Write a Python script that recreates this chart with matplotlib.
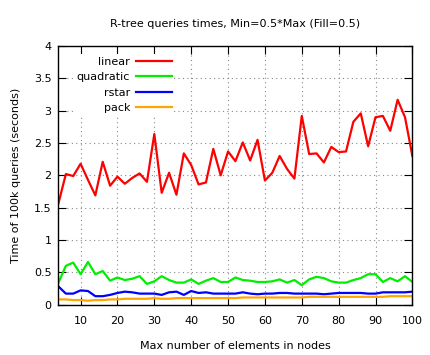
import matplotlib
matplotlib.use("Agg")
import matplotlib.pyplot as plt
import numpy as np

x_vals = list(range(4, 101, 2))

linear = [1.57, 2.02, 1.99, 2.18, 1.93, 1.69, 2.21, 1.84, 1.98, 1.87,
          1.96, 2.03, 1.90, 2.64, 1.73, 2.04, 1.70, 2.34, 2.16, 1.86,
          1.89, 2.41, 2.00, 2.37, 2.22, 2.51, 2.23, 2.55, 1.92, 2.04,
          2.30, 2.10, 1.95, 2.92, 2.33, 2.34, 2.20, 2.44, 2.36, 2.37,
          2.83, 2.96, 2.45, 2.90, 2.92, 2.69, 3.17, 2.90, 2.30]

quadratic = [0.34, 0.60, 0.65, 0.47, 0.66, 0.47, 0.52, 0.37, 0.42, 0.38,
             0.40, 0.44, 0.32, 0.36, 0.44, 0.38, 0.34, 0.34, 0.39, 0.32,
             0.37, 0.41, 0.35, 0.35, 0.42, 0.38, 0.37, 0.35, 0.35, 0.36,
             0.39, 0.34, 0.38, 0.30, 0.39, 0.43, 0.41, 0.36, 0.34, 0.34,
             0.38, 0.41, 0.47, 0.47, 0.35, 0.41, 0.36, 0.44, 0.35]

rstar = [0.28, 0.17, 0.17, 0.22, 0.21, 0.13, 0.13, 0.15, 0.18, 0.20,
         0.19, 0.17, 0.17, 0.17, 0.15, 0.19, 0.20, 0.15, 0.21, 0.18,
         0.19, 0.17, 0.17, 0.17, 0.17, 0.19, 0.17, 0.16, 0.17, 0.17,
         0.18, 0.18, 0.17, 0.17, 0.17, 0.17, 0.16, 0.17, 0.18, 0.18,
         0.18, 0.18, 0.17, 0.17, 0.19, 0.19, 0.19, 0.19, 0.20]

pack = [0.08, 0.08, 0.07, 0.07, 0.06, 0.07, 0.07, 0.08, 0.08, 0.09,
        0.09, 0.09, 0.09, 0.10, 0.09, 0.09, 0.10, 0.10, 0.10, 0.10,
        0.10, 0.10, 0.10, 0.10, 0.10, 0.11, 0.11, 0.11, 0.11, 0.11,
        0.11, 0.11, 0.11, 0.11, 0.12, 0.12, 0.12, 0.12, 0.12, 0.12,
        0.12, 0.12, 0.12, 0.12, 0.12, 0.13, 0.13, 0.13, 0.13]

series = [("linear", linear, "#ff0000"),
          ("quadratic", quadratic, "#00ee00"),
          ("rstar", rstar, "#0000ff"),
          ("pack", pack, "#ffa500")]

x_ticks = list(range(10, 101, 10))
y_ticks = [0, 0.5, 1, 1.5, 2, 2.5, 3, 3.5, 4]
y_tick_labels = ["0", "0.5", "1", "1.5", "2", "2.5", "3", "3.5", "4"]

plt.rcParams["font.family"] = ["DejaVu Sans"]
fig = plt.figure(figsize=(4.3, 3.55), dpi=100)
ax = fig.add_axes([0.136, 0.142, 0.823, 0.728])

for name, vals, col in series:
    ax.plot(x_vals, vals, color=col, lw=1.6, label=name)

ax.set_xlim(4, 100)
ax.set_ylim(0, 4)
ax.set_xticks(x_ticks)
ax.set_yticks(y_ticks)
ax.set_yticklabels(y_tick_labels)
ax.tick_params(direction="in", length=5.5, width=0.8, top=True, right=True,
               labelsize=8, pad=5)
ax.tick_params(axis="x", pad=8)
for s in ax.spines.values():
    s.set_linewidth(1.0)
ax.grid(True, color="#888888", linestyle=(0, (1, 3)), linewidth=0.8)
ax.set_axisbelow(True)

ax.set_title("R-tree queries times, Min=0.5*Max (Fill=0.5)", fontsize=8, pad=14)
ax.set_xlabel("Max number of elements in nodes", fontsize=8, labelpad=11)
ax.set_ylabel("Time of 100k queries (seconds)", fontsize=8, labelpad=9)

leg = ax.legend(loc="upper left", bbox_to_anchor=(0.045, 0.968), markerfirst=False,
                frameon=True, fontsize=8, handlelength=3.3, handletextpad=0.5,
                labelspacing=0.5, borderpad=0.2, borderaxespad=0)
leg.get_frame().set_facecolor("white")
leg.get_frame().set_edgecolor("none")
leg.get_frame().set_alpha(1)
leg.get_frame().set_boxstyle("square", pad=0)

fig.savefig("out.png", dpi=100)
